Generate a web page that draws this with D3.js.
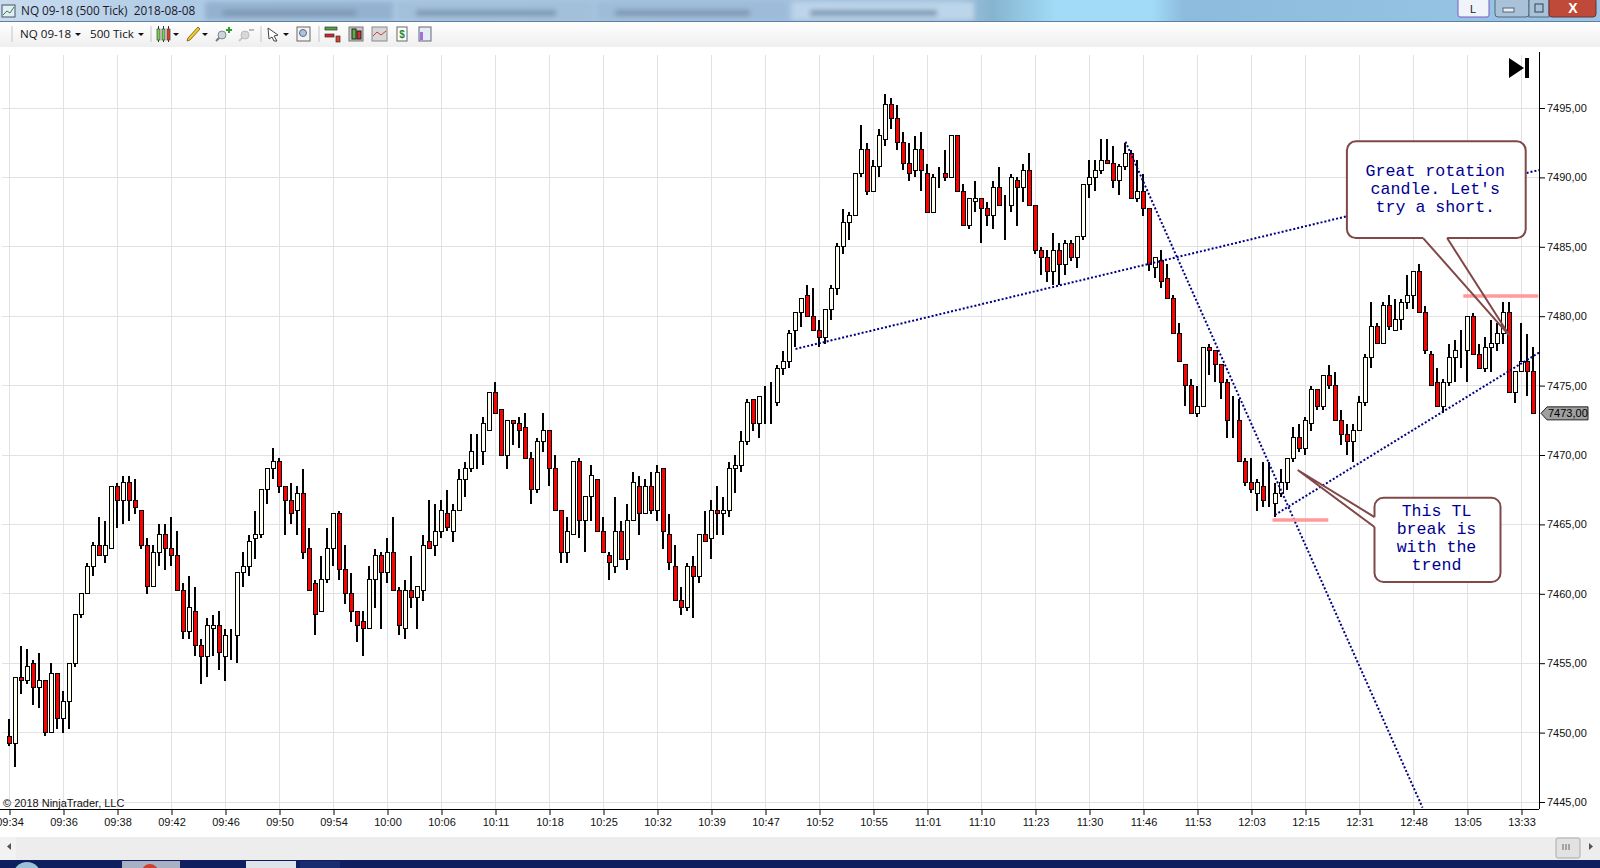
<!DOCTYPE html>
<html>
<head>
<meta charset="utf-8">
<script src="https://cdn.jsdelivr.net/npm/d3@7"></script>
<style>
body { margin: 0; background: #fff; overflow: hidden; }
svg { display: block; }
text { font-family: "Liberation Sans", Arial, sans-serif; }
</style>
</head>
<body>
<div id="chart"></div>
<script>
// 500 tick bars
var opens = [
7449.75,7449.25,7454,7453.75,7455,7453.25,7453.75,7450,7454.25,7451,
7452.25,7455,7458.5,7460,7462,7463.5,7462.75,7463.25,7467.75,7466.75,
7468,7466.75,7466,7463.5,7460.5,7463,7464.25,7463.25,7462.75,7460.25,
7457.25,7458.75,7456.25,7455.5,7457.5,7457.75,7455.5,7457,7457,7461.5,
7462,7464,7464.25,7467.5,7469,7469.5,7467.75,7466.75,7466,7467.25,
7463.25,7460.75,7458.75,7461,7463.25,7465.75,7461.75,7460,7458.75,7458,
7457.5,7461,7462.75,7461.5,7463,7460.25,7457.5,7460.25,7459.75,7460.25,
7463.75,7463.5,7464.5,7465.75,7464.5,7466,7468.25,7469,7470.25,7470.25,
7471.75,7474.5,7473.25,7470,7472.5,7472.25,7472,7469.75,7467.5,7471,
7471.75,7469,7466,7463,7464.25,7469.5,7465.25,7467,7468.25,7464.5,
7462.75,7462,7464.5,7462.5,7465.25,7467.75,7465.75,7467.75,7466,7469,
7464.25,7462,7459.5,7459,7462,7461.25,7464.25,7464,7466,7465.75,
7466,7469,7469.25,7471,7474,7472.25,7474.25,7474,7473.75,7476.25,
7476.75,7479,7480.25,7481.5,7480,7479,7478.5,7480.5,7482,7485,
7486.75,7487.25,7490.25,7492,7489,7490.75,7492.75,7495.25,7494.25,7492.5,
7491,7490.5,7492,7490.25,7487.5,7490,7490.25,7490,7493,7489,
7486.5,7488.25,7488.5,7487.75,7487.25,7489.25,7488,7488,7489.75,7489.25,
7490.5,7488,7484.75,7484.25,7483.25,7484.75,7483.75,7485.25,7484.25,7485.75,
7489.5,7490,7490.5,7491.25,7491,7489.75,7490.75,7491.75,7488.5,7489,
7487.75,7483.5,7484,7482.75,7481.25,7478.75,7476.5,7475,7473,7473.5,
7477.75,7477.5,7476.5,7475.25,7472.5,7472.5,7469.5,7468,7467.25,7467.75,
7466.75,7466.5,7467.25,7468,7469.75,7471.25,7470.5,7472.25,7474.75,7473.5,
7475.75,7475,7472.5,7471.5,7471,7471.75,7473.75,7477,7479.25,7478,
7480.75,7479,7479.75,7481,7481.5,7483.25,7480.25,7477.25,7475.25,7473.5,
7475.25,7477,7477.5,7477.5,7480,7477.25,7476.25,7477.75,7478,7478.75,
7480.25,7474.5,7476,7476.75,7476
];
var highs = [
7451,7454,7456.25,7456,7455.25,7455.75,7453.75,7455,7454.25,7453,
7455,7458.5,7460,7462.25,7463.75,7465.5,7465.25,7467.75,7468,7468.5,
7468.5,7468.25,7466,7464,7463.5,7465,7465,7465.5,7464.5,7460.75,
7461.25,7460.5,7456.75,7458.25,7458.5,7458.75,7457.5,7457.5,7461.5,7463,
7464.25,7466,7467.5,7469,7470.5,7469.75,7467.75,7468,7467.75,7469,
7464.75,7461,7462.75,7464.75,7465.75,7466,7463.5,7461.5,7458.75,7458.75,
7462,7463.25,7463,7464,7465.5,7460.5,7461,7462.75,7460.5,7464.25,
7466.75,7466.5,7466.75,7467.5,7466.5,7469,7469.5,7471.5,7471.5,7472.75,
7474.5,7475.25,7473.25,7472.5,7472.5,7472.75,7473,7470.25,7471.25,7473,
7471.75,7470,7466,7465.5,7469.5,7469.75,7467,7469.25,7468.25,7465.5,
7463,7467,7465.25,7466.5,7468.75,7468.5,7468.25,7468.75,7469.25,7469,
7465.75,7463.5,7460.5,7462.25,7462.75,7464.25,7466,7466.75,7467.75,7467,
7469.5,7470,7471.75,7474,7474,7474.25,7475,7475.25,7476.5,7477.5,
7479,7480.25,7481.25,7482.25,7482,7479.75,7480.5,7482.25,7485.25,7487.75,
7487.5,7490.25,7493.75,7492.5,7491.25,7493.5,7496,7495.75,7495.25,7493.25,
7492.5,7493,7493.25,7491,7490.25,7490.75,7492,7493,7493,7489.5,
7488.5,7489.75,7488.5,7488.25,7489.75,7490.75,7488.75,7490.25,7490,7491,
7491.75,7488,7485,7484.75,7486,7485.25,7485.5,7485.5,7485.75,7489.5,
7491.25,7491.25,7492.75,7492.75,7492.25,7491,7492.5,7492,7491.25,7490.25,
7487.75,7484.25,7484.75,7483.75,7481.5,7479.5,7476.5,7475.5,7475,7477.75,
7478,7477.5,7476.5,7475.5,7474.25,7474,7469.75,7469.75,7468.25,7469.5,
7469.5,7468,7469,7469.75,7472,7472.25,7472.75,7475,7474.75,7475.75,
7476.5,7476,7473.25,7472.25,7472.25,7474.25,7477.25,7481,7479.5,7481,
7481.5,7481.25,7481.25,7483,7483.25,7483.75,7480.75,7477.5,7476.25,7475.5,
7478,7478.25,7479,7480,7480.25,7478,7478.5,7479.75,7479.5,7481,
7481,7476,7479.5,7478.75,7477.75
];
var lows = [
7449,7447.5,7452.75,7453.5,7452,7451.75,7449.75,7450,7450.25,7450,
7450.25,7454.75,7458.25,7460,7461.25,7462.75,7462.25,7463.25,7464.75,7465,
7465.25,7465.75,7463.25,7460,7460.5,7462,7461.75,7462,7460.25,7456.75,
7456.75,7455.5,7453.5,7454,7455.5,7454.5,7453.75,7455.25,7455,7460.5,
7461.25,7462.5,7464,7466.5,7468.25,7467.25,7464.25,7465,7464.25,7462.5,
7460.25,7457,7458.75,7460.75,7462,7461,7459.25,7458,7456.5,7455.5,
7457.5,7459,7457.5,7460.75,7460.25,7457,7456.75,7459,7457.5,7459.5,
7463.25,7462.75,7464,7464.5,7463.75,7466,7467,7468.75,7469,7469.25,
7471.75,7473,7470,7469,7470.75,7470.5,7469.75,7466.5,7467.25,7470.25,
7467.75,7466,7462.25,7462.25,7464.25,7464,7463,7465.25,7464.5,7463,
7461,7461.5,7462.5,7461.75,7465.25,7464.25,7465.75,7465.75,7465.25,7463.25,
7461.75,7459.5,7458.5,7458.75,7458.25,7460.75,7463.75,7462.5,7464.25,7464.25,
7465.5,7467.25,7468.75,7470.75,7471.75,7471.25,7472.25,7472.25,7473.5,7475.75,
7476.25,7477.75,7479.25,7480,7479,7477.75,7478,7479.75,7481.5,7484.5,
7485.5,7487.25,7490,7488.75,7489,7490,7492.25,7493.5,7492,7490.5,
7489.75,7490,7489,7487.5,7487.5,7489.25,7489.75,7490,7489,7486.5,
7486.25,7487.5,7485.25,7486.5,7486.25,7488,7485.5,7487.5,7486.5,7488.25,
7488,7484.5,7483,7482.5,7482.25,7482.25,7483,7484,7483.5,7485.5,
7488.5,7489,7490.25,7491,7489.25,7488.75,7490.5,7488.5,7488.25,7487.25,
7483.25,7482.75,7482,7481.25,7478.75,7476.75,7473.5,7473,7472.75,7473.5,
7475.75,7475.25,7474,7471.25,7471.25,7469.5,7467.75,7467.25,7466,7466.25,
7466.25,7465.5,7467,7467.5,7469.5,7470.25,7470,7471.75,7473.25,7473.25,
7474.75,7472.5,7470.75,7470,7469.5,7471.75,7473.5,7476.25,7478,7478,
7479,7479,7479,7480.5,7480.5,7480.25,7477.25,7475,7473.5,7473,
7475,7475.25,7476.25,7475.25,7477.25,7476.25,7476,7476,7477.5,7478,
7474.5,7473.75,7476,7474.25,7473
];
var closes = [
7449.25,7454,7453.75,7454.75,7453.25,7453.75,7450,7454.25,7451,7452.25,
7455,7458.5,7460,7462,7463.5,7462.75,7463.5,7467.75,7466.75,7468,
7466.75,7466.25,7463.5,7460.5,7463,7464.25,7463.25,7462.75,7460.25,7457.25,
7459,7456.25,7455.5,7457.75,7457.75,7455.75,7457,7457,7461.5,7462,
7463.75,7464.25,7467.5,7469,7469.5,7467.75,7466.75,7465.75,7467.25,7463,
7460.25,7458.5,7461,7463.25,7465.75,7461.75,7460,7458.75,7457.75,7457.5,
7461,7462.75,7461.5,7463,7460.25,7457.75,7460.25,7459.75,7460.5,7463.5,
7463.25,7464.5,7466,7464.75,7466,7468.25,7469,7470.25,7470.25,7472.25,
7474.5,7473,7470,7472.5,7472.25,7471.75,7469.75,7467.5,7471,7471.75,
7469,7466,7463,7464.5,7469.5,7465.25,7467,7468.5,7464.5,7463,
7462.25,7464.5,7462.5,7465.25,7468,7465.75,7467.75,7466,7468.75,7464.5,
7462.25,7459.5,7459,7462,7461.25,7464.25,7463.75,7466,7465.75,7466,
7469,7469.25,7471,7473.75,7472.25,7474.25,7474.25,7474,7476.25,7476.75,
7478.75,7480.25,7481.25,7480,7479,7478.5,7480.5,7482,7485,7486.75,
7487.25,7490.25,7492,7489,7490.75,7493,7495.25,7494.25,7492.5,7491,
7490.25,7492,7490.5,7487.5,7490,7490,7490,7493,7489,7486.5,
7488.5,7488.5,7487.75,7487.25,7489.25,7488,7488,7490,7489.25,7490.5,
7488,7484.75,7484.25,7483.25,7484.75,7483.75,7485.25,7484.25,7485.75,7489.5,
7490,7490.5,7491.25,7491,7489.75,7490.75,7491.75,7488.5,7489,7487.75,
7483.75,7484.25,7482.5,7481.25,7478.75,7476.75,7475,7473,7473.5,7477.75,
7477.5,7476.5,7475.25,7472.5,7472.5,7469.5,7468,7467.5,7468,7466.75,
7466.75,7467.25,7468,7469.75,7471.25,7470.5,7472.5,7474.75,7473.5,7475.75,
7475,7472.5,7471.5,7471,7471.75,7473.75,7477,7479.25,7478,7480.75,
7479.25,7479.75,7481,7481.5,7483.25,7480.25,7477.5,7475,7473.5,7475.25,
7477,7477.5,7477.5,7480,7477.25,7476.25,7477.75,7478,7478.75,7480.25,
7474.5,7476,7476.75,7476,7473
];
var timeLabels = ["09:34","09:36","09:38","09:42","09:46","09:50","09:54","10:00","10:06","10:11",
  "10:18","10:25","10:32","10:39","10:47","10:52","10:55","11:01","11:10","11:23",
  "11:30","11:46","11:53","12:03","12:15","12:31","12:48","13:05","13:33"];
var priceTicks = [7445,7450,7455,7460,7465,7470,7475,7480,7485,7490,7495];
var lastPrice = 7473;

// drawn objects, in bar number and price
var trendStartBar = [131, 186, 210.9];
var trendStartPrice = [7477.64, 7492.57, 7465.68];
var trendEndBar = [254.9, 235.5, 255];
var trendEndPrice = [7490.53, 7444.6, 7477.4];
var levelStartBar = [210.5, 242.3];
var levelEndBar = [219.8, 254.8];
var levelPrice = [7465.32, 7481.45];

var W = 1600, H = 868, plotTop = 53, plotBottom = 809, axisX = 1539;

var x = d3.scaleLinear().domain([0, 9]).range([9.5, 63.5]);
var y = d3.scaleLinear().domain([7445, 7495]).range([802, 108]);

var svg = d3.select("#chart").append("svg").attr("width", W).attr("height", H);

// window chrome
var defs = svg.append("defs");
var tg = defs.append("linearGradient").attr("id", "titlebar");
[[0,"#c9dcee"],[0.12,"#aecae5"],[0.6,"#a0bfdc"],[0.62,"#86b4cf"],[0.66,"#a2dbf7"],[0.72,"#a2dbf7"],[0.74,"#8cbbdd"],[0.9,"#94c2e2"],[1,"#9cc4e6"]]
  .forEach(function(s) { tg.append("stop").attr("offset", s[0]).attr("stop-color", s[1]); });
var bg = defs.append("linearGradient").attr("id", "toolbar").attr("x2", 0).attr("y2", 1);
bg.append("stop").attr("offset", 0).attr("stop-color", "#ffffff");
bg.append("stop").attr("offset", 1).attr("stop-color", "#efefef");
defs.append("filter").attr("id", "blur").append("feGaussianBlur").attr("stdDeviation", 2.5);

svg.append("rect").attr("width", W).attr("height", 21).attr("fill", "url(#titlebar)");
// blurred tabs of the windows behind the title bar
var behind = svg.append("g").attr("filter", "url(#blur)");
[[205,188,"#93b2d0"],[398,195,"#a3bfda"],[597,190,"#9dbcd9"],[792,182,"#bdd5ea"]].forEach(function(t) {
  behind.append("rect").attr("x", t[0]).attr("y", 2).attr("width", t[1]).attr("height", 18).attr("fill", t[2]);
  behind.append("rect").attr("x", t[0] + 18).attr("y", 10).attr("width", t[1] - 55).attr("height", 6).attr("fill", "#7d97b4");
});
svg.append("rect").attr("y", 21).attr("width", W).attr("height", 1).attr("fill", "#5f7f9f");
svg.append("rect").attr("y", 22).attr("width", W).attr("height", 25).attr("fill", "url(#toolbar)");
svg.append("text").attr("x", 21).attr("y", 15).style("font-family", "'Open Sans'").style("font-size", "11.8px").style("white-space", "pre").attr("fill", "#1a1a2a").text("NQ 09-18 (500 Tick)  2018-08-08");
svg.append("text").attr("x", 20).attr("y", 38).style("font-family", "'Open Sans'").style("font-size", "11.6px").attr("fill", "#111").text("NQ 09-18");
svg.append("text").attr("x", 90).attr("y", 38).style("font-family", "'Open Sans'").style("font-size", "11.6px").attr("fill", "#111").text("500 Tick");
// app icon
svg.append("rect").attr("x", 2).attr("y", 5).attr("width", 13).attr("height", 12).attr("fill", "#e4edf5").attr("stroke", "#456");
svg.append("path").attr("d", "M3,15l4,-4l3,2l4,-6").attr("fill", "none").attr("stroke", "#2a8a3a");

function caret(cx) { svg.append("path").attr("d", "M" + (cx - 3) + ",33h6l-3,3z").attr("fill", "#111"); }
[78, 141, 176, 205, 286].forEach(caret);
[12, 151, 261, 319].forEach(function(sx) {
  svg.append("line").attr("x1", sx).attr("x2", sx).attr("y1", 26).attr("y2", 42).attr("stroke", "#c4c4c4");
});
// candle icon
[[157,"#7ccf52"],[162,"#7ccf52"],[167,"#e8392c"]].forEach(function(c) {
  svg.append("line").attr("x1", c[0] + 1.5).attr("x2", c[0] + 1.5).attr("y1", 26).attr("y2", 42).attr("stroke", "#333");
  svg.append("rect").attr("x", c[0]).attr("y", 29).attr("width", 3).attr("height", 11).attr("fill", c[1]).attr("stroke", "#444").attr("stroke-width", 0.7);
});
// pencil
svg.append("path").attr("d", "M187,41l3,-1l10,-11l-2,-2l-10,11z").attr("fill", "#f2c92e").attr("stroke", "#8a7020");
// zooms
svg.append("path").attr("d", "M216,41l4,-4").attr("stroke", "#777").attr("stroke-width", 2);
svg.append("circle").attr("cx", 222).attr("cy", 35).attr("r", 4).attr("fill", "#cdd4da").attr("stroke", "#888");
svg.append("path").attr("d", "M226,30h6M229,27v6").attr("stroke", "#2aa02a").attr("stroke-width", 2);
svg.append("path").attr("d", "M239,41l4,-4").attr("stroke", "#c8c8c8").attr("stroke-width", 2);
svg.append("circle").attr("cx", 245).attr("cy", 35).attr("r", 4).attr("fill", "#d8d8d8").attr("stroke", "#bbb");
svg.append("path").attr("d", "M249,30h5").attr("stroke", "#bbb").attr("stroke-width", 2);
// arrow, zoom box
svg.append("path").attr("d", "M268,28l10,7l-4,1l3,5l-3,0l-2,-4l-3,2z").attr("fill", "#fff").attr("stroke", "#444");
svg.append("rect").attr("x", 297).attr("y", 27).attr("width", 13).attr("height", 14).attr("fill", "#f4f4f4").attr("stroke", "#666");
svg.append("circle").attr("cx", 303).attr("cy", 33).attr("r", 3.5).attr("fill", "#a8c4e4").attr("stroke", "#667");
// right toolbar icons
svg.append("rect").attr("x", 325).attr("y", 27).attr("width", 12).attr("height", 3).attr("fill", "#4aa840").attr("stroke", "#333").attr("stroke-width", 0.7);
svg.append("rect").attr("x", 325).attr("y", 34).attr("width", 9).attr("height", 3).attr("fill", "#e02020").attr("stroke", "#333").attr("stroke-width", 0.7);
svg.append("rect").attr("x", 336).attr("y", 36).attr("width", 4).attr("height", 6).attr("fill", "#d84030").attr("stroke", "#333").attr("stroke-width", 0.7);
svg.append("rect").attr("x", 349).attr("y", 27).attr("width", 14).attr("height", 14).attr("fill", "#c8c8c8").attr("stroke", "#777");
svg.append("rect").attr("x", 352).attr("y", 29).attr("width", 4).attr("height", 10).attr("fill", "#60b040").attr("stroke", "#222");
svg.append("rect").attr("x", 357).attr("y", 31).attr("width", 4).attr("height", 8).attr("fill", "#d03030").attr("stroke", "#222");
svg.append("rect").attr("x", 372).attr("y", 27).attr("width", 15).attr("height", 14).attr("fill", "#d8d8d8").attr("stroke", "#888");
svg.append("path").attr("d", "M373,36l4,-4l4,3l5,-4").attr("fill", "none").attr("stroke", "#c04040");
svg.append("rect").attr("x", 397).attr("y", 27).attr("width", 10).attr("height", 14).attr("fill", "#fff").attr("stroke", "#666");
svg.append("text").attr("x", 402).attr("y", 38).attr("text-anchor", "middle").style("font-size", "10px").style("font-weight", "bold").attr("fill", "#1a8a2a").text("$");
svg.append("rect").attr("x", 419).attr("y", 27).attr("width", 12).attr("height", 14).attr("fill", "#e4ecf6").attr("stroke", "#667");
svg.append("rect").attr("x", 420).attr("y", 32).attr("width", 3).attr("height", 8).attr("fill", "#a070e0");

// window buttons
svg.append("rect").attr("x", 1458).attr("y", -2).attr("width", 31).attr("height", 19).attr("rx", 2).attr("fill", "#eef4fa").attr("stroke", "#7a5cc0");
svg.append("text").attr("x", 1473).attr("y", 13).attr("text-anchor", "middle").style("font-size", "11px").attr("fill", "#222").text("L");
svg.append("rect").attr("x", 1495).attr("y", -2).attr("width", 34).attr("height", 19).attr("rx", 3).attr("fill", "#a9c2da").attr("stroke", "#567");
svg.append("rect").attr("x", 1503).attr("y", 8).attr("width", 11).attr("height", 4).attr("fill", "#e8eef4").attr("stroke", "#567");
svg.append("rect").attr("x", 1529).attr("y", -2).attr("width", 20).attr("height", 19).attr("fill", "#a9c2da").attr("stroke", "#567");
svg.append("rect").attr("x", 1535).attr("y", 4).attr("width", 8).attr("height", 8).attr("fill", "none").attr("stroke", "#344");
svg.append("rect").attr("x", 1549).attr("y", -2).attr("width", 47).attr("height", 19).attr("rx", 3).attr("fill", "#c04a3a").attr("stroke", "#633");
svg.append("text").attr("x", 1573).attr("y", 13).attr("text-anchor", "middle").style("font-size", "14px").style("font-weight", "bold").attr("fill", "#fff").text("X");

// grid
var barTicks = timeLabels.map(function(d, i) { return i * 9; });
var grid = svg.append("g").attr("stroke", "#e2e2e2").attr("stroke-width", 1).attr("shape-rendering", "crispEdges");
grid.selectAll(".v").data(barTicks).join("line").attr("class", "v")
  .attr("x1", function(d) { return x(d); }).attr("x2", function(d) { return x(d); })
  .attr("y1", plotTop + 2).attr("y2", plotBottom);
grid.selectAll(".h").data(priceTicks).join("line").attr("class", "h")
  .attr("x1", 2).attr("x2", axisX)
  .attr("y1", function(d) { return y(d); }).attr("y2", function(d) { return y(d); });

// candles
var bars = d3.range(opens.length);
var candles = svg.append("g").attr("shape-rendering", "crispEdges");
candles.selectAll(".wick").data(bars).join("line").attr("class", "wick")
  .attr("x1", function(i) { return x(i) - 0.5; }).attr("x2", function(i) { return x(i) - 0.5; })
  .attr("y1", function(i) { return y(highs[i]); }).attr("y2", function(i) { return y(lows[i]); })
  .attr("stroke", "#000").attr("stroke-width", 2);
candles.selectAll(".body").data(bars).join("rect").attr("class", "body")
  .attr("x", function(i) { return x(i) - 2; })
  .attr("width", 4)
  .attr("y", function(i) { return y(Math.max(opens[i], closes[i])); })
  .attr("height", function(i) { return Math.abs(y(opens[i]) - y(closes[i])); })
  .attr("fill", function(i) { return closes[i] < opens[i] ? "#ff0000" : "#fffff0"; })
  .attr("stroke", "#000").attr("stroke-width", 1);

// trend lines
svg.append("g").selectAll("line").data(trendStartBar).join("line")
  .attr("x1", function(d) { return x(d); })
  .attr("y1", function(d, i) { return y(trendStartPrice[i]); })
  .attr("x2", function(d, i) { return x(trendEndBar[i]); })
  .attr("y2", function(d, i) { return y(trendEndPrice[i]); })
  .attr("stroke", "#000080").attr("stroke-width", 2).attr("stroke-dasharray", "2 2");

// support and resistance
svg.append("g").selectAll("line").data(levelPrice).join("line")
  .attr("x1", function(d, i) { return x(levelStartBar[i]); })
  .attr("x2", function(d, i) { return x(levelEndBar[i]); })
  .attr("y1", function(d) { return y(d); }).attr("y2", function(d) { return y(d); })
  .attr("stroke", "#ff9a9a").attr("stroke-width", 3.5);

// callouts
function callout(box, tail, lines, firstBaseline) {
  var g = svg.append("g");
  g.append("rect").attr("x", x(box[0])).attr("y", y(box[2]))
    .attr("width", x(box[1]) - x(box[0])).attr("height", y(box[3]) - y(box[2]))
    .attr("rx", 9).attr("fill", "#fff").attr("stroke", "#804848").attr("stroke-width", 2);
  g.append("line").attr("x1", x(tail[0][0])).attr("y1", y(tail[0][1]))
    .attr("x2", x(tail[2][0])).attr("y2", y(tail[2][1])).attr("stroke", "#fff").attr("stroke-width", 3);
  g.append("path").attr("d", d3.line().x(function(d) { return x(d[0]); }).y(function(d) { return y(d[1]); })(tail))
    .attr("fill", "none").attr("stroke", "#804848").attr("stroke-width", 2);
  var cx = (x(box[0]) + x(box[1])) / 2 - 1;
  g.selectAll("text").data(lines).join("text")
    .attr("x", cx).attr("y", function(d, i) { return firstBaseline + i * 18; })
    .attr("text-anchor", "middle")
    .style("font-family", "'Liberation Mono', monospace").style("font-size", "16.6px")
    .attr("fill", "#000090").text(function(d) { return d; });
}
callout([222.9, 252.7, 7492.6, 7485.63], [[235.6, 7485.63], [250.05, 7478.57], [239.6, 7485.63]],
  ["Great rotation", "candle. Let's", "try a short."], 176);
callout([227.5, 248.5, 7466.92, 7460.85], [[227.5, 7465.53], [214.7, 7468.92], [227.5, 7464.81]],
  ["This TL", "break is", "with the", "trend"], 516);

// right price axis
var yAxis = d3.axisRight(y).tickValues(priceTicks).tickFormat(function(d) { return d + ",00"; }).tickSize(6).tickPadding(2);
var yg = svg.append("g").attr("transform", "translate(" + axisX + ",0)").call(yAxis);
yg.select(".domain").remove();
yg.selectAll("text").style("font-size", "11px").attr("fill", "#111");
yg.selectAll("line").attr("stroke", "#000");
svg.append("line").attr("x1", axisX + 0.5).attr("x2", axisX + 0.5).attr("y1", plotTop - 1).attr("y2", plotBottom).attr("stroke", "#000").attr("stroke-width", 1);

// bottom time axis
var xAxis = d3.axisBottom(x).tickValues(barTicks).tickFormat(function(d, i) { return timeLabels[i]; }).tickSize(6).tickPadding(3);
var xg = svg.append("g").attr("transform", "translate(0," + plotBottom + ")").call(xAxis);
xg.select(".domain").remove();
xg.selectAll("text").style("font-size", "11px").attr("fill", "#111");
xg.selectAll("line").attr("stroke", "#000");
svg.append("line").attr("x1", 0).attr("x2", axisX).attr("y1", plotBottom + 0.5).attr("y2", plotBottom + 0.5).attr("stroke", "#000").attr("stroke-width", 1);

// last price marker
var ly = y(lastPrice);
svg.append("path").attr("d", "M" + (axisX + 2) + "," + ly + "l6,-6.5h41v13h-41z").attr("fill", "#a0a0a0").attr("stroke", "#222");
svg.append("text").attr("x", axisX + 9).attr("y", ly + 4).style("font-size", "11px").attr("fill", "#000").text(lastPrice + ",00");

svg.append("text").attr("x", 3).attr("y", 807).style("font-size", "11px").attr("fill", "#111").text("\u00a9 2018 NinjaTrader, LLC");

// go to last bar button
svg.append("path").attr("d", "M1509,58l15,10l-15,10z").attr("fill", "#000");
svg.append("rect").attr("x", 1525).attr("y", 58).attr("width", 4).attr("height", 20).attr("fill", "#000");

// scroll bar and task bar
svg.append("rect").attr("y", 837).attr("width", W).attr("height", 23).attr("fill", "#ededed");
svg.append("rect").attr("x", 0).attr("y", 837).attr("width", 16).attr("height", 23).attr("fill", "#f2f2f2");
svg.append("path").attr("d", "M11,843v7l-4,-3.5z").attr("fill", "#555");
svg.append("rect").attr("x", 1556).attr("y", 838).attr("width", 24).attr("height", 20).attr("rx", 2).attr("fill", "#e2e2e2").attr("stroke", "#aaa");
svg.append("path").attr("d", "M1563,844v6M1566,844v6M1569,844v6").attr("stroke", "#666");
svg.append("path").attr("d", "M1589,843v7l4,-3.5z").attr("fill", "#555");
svg.append("rect").attr("y", 860).attr("width", W).attr("height", 8).attr("fill", "#0e1e5e");
[[122,58,"#a8b0c4"],[246,50,"#dfe3ea"],[300,40,"#1a2c70"]].forEach(function(t) {
  svg.append("rect").attr("x", t[0]).attr("y", 861).attr("width", t[1]).attr("height", 7).attr("fill", t[2]);
});
svg.append("circle").attr("cx", 27).attr("cy", 876).attr("r", 14).attr("fill", "#9cc0d8");
svg.append("circle").attr("cx", 150).attr("cy", 872).attr("r", 8).attr("fill", "#d0402a");
</script>
</body>
</html>
